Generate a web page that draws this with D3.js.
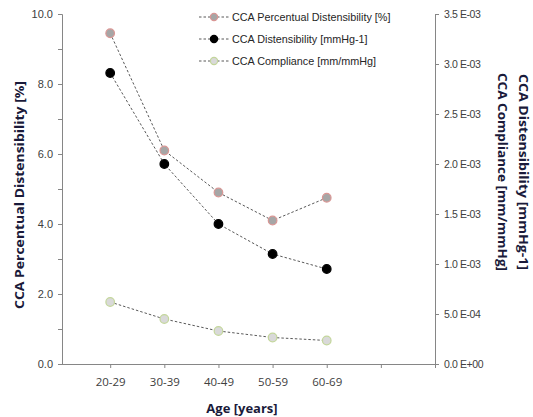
<!DOCTYPE html>
<html><head><meta charset="utf-8">
<script src="https://cdn.jsdelivr.net/npm/d3@7"></script>
<style>body{margin:0;background:#fff}</style>
</head><body>
<svg id="c" width="533" height="417"></svg>
<script>
const categories = ["20-29","30-39","40-49","50-59","60-69"];
const percentual = [9.45, 6.1, 4.9, 4.1, 4.75];
const distensibility = [2.91e-3, 2.0e-3, 1.4e-3, 1.1e-3, 0.95e-3];
const compliance = [0.62e-3, 0.45e-3, 0.33e-3, 0.265e-3, 0.235e-3];
const leftTicks = [0,2,4,6,8,10];
const rightTicks = [0,5e-4,1e-3,1.5e-3,2e-3,2.5e-3,3e-3,3.5e-3];
const rightTickLabels = ["0.0 E+00","5.0 E-04","1.0 E-03","1.5 E-03","2.0 E-03","2.5 E-03","3.0 E-03","3.5 E-03"];

const svg = d3.select("#c");
const L = 62, R = 435, T = 14, B = 364;
const x = d3.scaleLinear().domain([-0.89, 6]).range([L, R]);
const yL = d3.scaleLinear().domain([0, 10]).range([B, T]);
const yR = d3.scaleLinear().domain([0, 3.5e-3]).range([B, T]);
const axisCol = "#868686", labCol = "#404040", titleCol = "#1a1a3a";

// left axis
const gl = svg.append("g").attr("transform", `translate(${L},0)`)
  .call(d3.axisLeft(yL).tickValues(d3.range(0, 11, 1)).tickSize(4)
    .tickFormat(d => d % 2 === 0 ? d3.format(".1f")(d) : ""));
gl.select(".domain").attr("stroke", axisCol);
gl.selectAll(".tick line").attr("stroke", axisCol);
gl.selectAll(".tick text").attr("fill", labCol).attr("font-family", "Liberation Sans, Arial, sans-serif")
  .attr("font-size", 11).attr("x", -9);

// right axis
const gr = svg.append("g").attr("transform", `translate(${R},0)`)
  .call(d3.axisRight(yR).tickValues(rightTicks).tickSize(4)
    .tickFormat((d, i) => rightTickLabels[i]));
gr.select(".domain").attr("stroke", axisCol);
gr.selectAll(".tick line").attr("stroke", axisCol);
gr.selectAll(".tick text").attr("fill", labCol).attr("font-family", "Liberation Sans, Arial, sans-serif")
  .attr("font-size", 10.5).attr("x", 9).attr("letter-spacing", -0.4);

// bottom axis
const gb = svg.append("g").attr("transform", `translate(0,${B})`)
  .call(d3.axisBottom(x).tickValues([0,1,2,3,4,5,6]).tickSize(4)
    .tickFormat(d => categories[d] || ""));
gb.select(".domain").attr("stroke", axisCol).attr("d", `M${L-4},0.5H${R+4}`);
gb.selectAll(".tick line").attr("stroke", axisCol);
gb.selectAll(".tick text").attr("fill", labCol).attr("font-family", "Open Sans, sans-serif")
  .attr("font-size", 11.5).attr("y", 14);

// titles
const tf = "Open Sans, sans-serif";
svg.append("text").attr("transform", `translate(24,${(T+B)/2 + 6}) rotate(-90)`)
  .attr("text-anchor", "middle").attr("font-family", tf).attr("font-weight", "bold")
  .attr("font-size", 13).attr("fill", titleCol)
  .attr("textLength", 228).attr("lengthAdjust", "spacingAndGlyphs")
  .text("CCA Percentual Distensibility  [%]");
svg.append("text").attr("transform", `translate(519,172) rotate(90)`)
  .attr("text-anchor", "middle").attr("font-family", tf).attr("font-weight", "bold")
  .attr("font-size", 13).attr("fill", titleCol)
  .attr("textLength", 196).attr("lengthAdjust", "spacingAndGlyphs")
  .text("CCA Distensibility [mmHg-1]");
svg.append("text").attr("transform", `translate(498,172) rotate(90)`)
  .attr("text-anchor", "middle").attr("font-family", tf).attr("font-weight", "bold")
  .attr("font-size", 13).attr("fill", titleCol)
  .attr("textLength", 198).attr("lengthAdjust", "spacingAndGlyphs")
  .text("CCA Compliance  [mm/mmHg]");
svg.append("text").attr("x", 242).attr("y", 413).attr("text-anchor", "middle")
  .attr("font-family", tf).attr("font-weight", "bold")
  .attr("font-size", 13).attr("fill", titleCol).text("Age [years]");

const series = [
  {name: "CCA Percentual Distensibility [%]", vals: percentual, y: yL, fill: "#a6a6a6", stroke: "#d99694"},
  {name: "CCA Distensibility [mmHg-1]", vals: distensibility, y: yR, fill: "#000000", stroke: "#000000"},
  {name: "CCA Compliance [mm/mmHg]", vals: compliance, y: yR, fill: "#d9d9d9", stroke: "#c3d69b"}
];

series.forEach(s => {
  const line = d3.line().x((d, i) => x(i)).y(d => s.y(d));
  svg.append("path").attr("d", line(s.vals)).attr("fill", "none")
    .attr("stroke", "#595959").attr("stroke-width", 1).attr("stroke-dasharray", "2.5,2");
  svg.selectAll(null).data(s.vals).enter().append("circle")
    .attr("cx", (d, i) => x(i)).attr("cy", d => s.y(d)).attr("r", 4.3)
    .attr("fill", s.fill).attr("stroke", s.stroke).attr("stroke-width", 1.2);
});

// legend
const lg = svg.append("g");
series.forEach((s, i) => {
  const yy = 17 + i * 22;
  lg.append("line").attr("x1", 199).attr("x2", 229).attr("y1", yy).attr("y2", yy)
    .attr("stroke", "#595959").attr("stroke-dasharray", "2.5,2");
  lg.append("circle").attr("cx", 214).attr("cy", yy).attr("r", 3.6)
    .attr("fill", s.fill).attr("stroke", s.stroke).attr("stroke-width", 1.2);
  lg.append("text").attr("x", 232).attr("y", yy + 3.8).attr("font-family", "Liberation Sans, Arial, sans-serif")
    .attr("font-size", 10.8).attr("fill", "#262626").text(s.name);
});
</script>
</body></html>
